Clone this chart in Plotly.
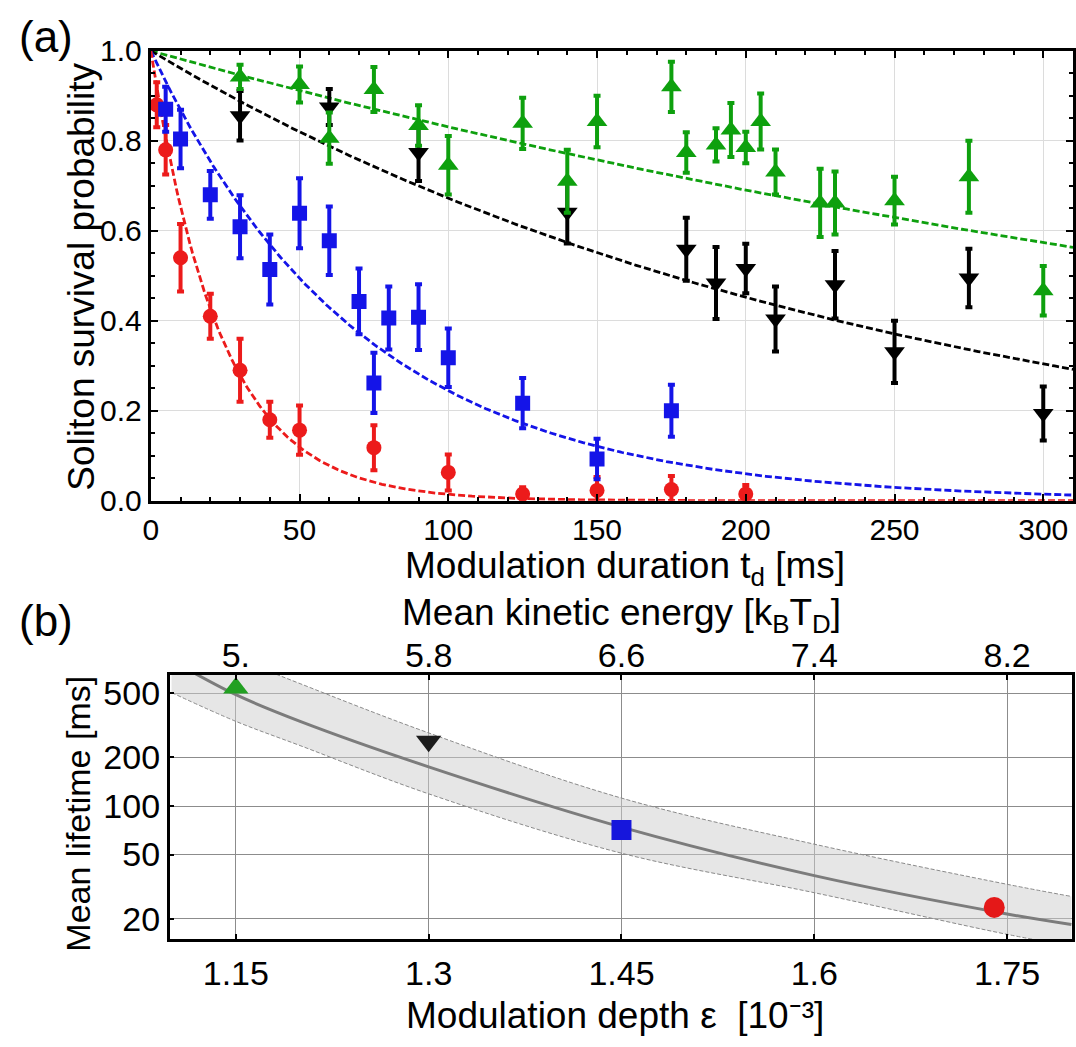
import numpy as np
import plotly.graph_objects as go

W, H = 1076, 1047

# ---------------- Panel (a) data ----------------
red_t = [2, 5, 10, 20, 30, 40, 50, 75, 100, 125, 150, 175, 200]
red_p = [0.88, 0.78, 0.54, 0.41, 0.29, 0.18, 0.157, 0.118, 0.063, 0.015, 0.023, 0.025, 0.015]
red_e = [0.05, 0.055, 0.075, 0.05, 0.07, 0.04, 0.055, 0.05, 0.04, 0.015, 0.03, 0.03, 0.02]

blue_t = [5, 10, 20, 30, 40, 50, 60, 70, 75, 80, 90, 100, 125, 150, 175]
blue_p = [0.87, 0.804, 0.68, 0.609, 0.514, 0.639, 0.578, 0.443, 0.262, 0.406, 0.408, 0.318, 0.217, 0.093, 0.2]
blue_e = [0.05, 0.065, 0.053, 0.07, 0.078, 0.078, 0.076, 0.073, 0.067, 0.07, 0.073, 0.065, 0.056, 0.045, 0.058]

black_t = [30, 60, 90, 140, 180, 190, 200, 210, 230, 250, 275, 300]
black_p = [0.856, 0.875, 0.774, 0.641, 0.559, 0.484, 0.516, 0.404, 0.48, 0.331, 0.495, 0.194]
black_e = [0.055, 0.04, 0.063, 0.069, 0.07, 0.08, 0.055, 0.072, 0.075, 0.069, 0.065, 0.06]

green_t = [30, 50, 60, 75, 90, 100, 125, 140, 150, 175, 180, 190, 195, 200, 205, 210,
           225, 230, 250, 275, 300]
green_p = [0.942, 0.925, 0.806, 0.914, 0.834, 0.746, 0.839, 0.71, 0.843, 0.92, 0.774,
           0.791, 0.824, 0.785, 0.843, 0.731, 0.662, 0.662, 0.667, 0.72, 0.467]
green_e = [0.027, 0.04, 0.057, 0.05, 0.045, 0.065, 0.057, 0.07, 0.057, 0.056, 0.045,
           0.037, 0.06, 0.035, 0.062, 0.05, 0.076, 0.07, 0.053, 0.08, 0.055]

# fitted mean lifetimes [ms] (also the points of panel b)
series_names = ["green", "black", "blue", "red"]
lifetimes = [540, 252, 71, 23.5]
depths = [1.15, 1.30, 1.45, 1.74]

# ---------------- Panel (b) data ----------------
eps_curve = [1.10, 1.15, 1.20, 1.30, 1.45, 1.60, 1.75, 1.80]
tau_curve = [800, 490, 335, 175, 74, 37, 21.4, 18.4]
tau_upper = [1250, 830, 574, 284, 112, 58, 32.7, 27.5]
tau_lower = [505, 335, 237, 119, 51, 29, 16, 13.5]

eps_ticks = [1.15, 1.30, 1.45, 1.60, 1.75]
eps_ticktext = ["1.15", "1.3", "1.45", "1.6", "1.75"]
energy_ticktext = ["5.", "5.8", "6.6", "7.4", "8.2"]
tau_ticks = [20, 50, 100, 200, 500]

RED = "#ec1b1b"
BLUE = "#1414e8"
GREEN = "#0ea00e"
BLACK = "#000000"
colors = {"green": GREEN, "black": BLACK, "blue": BLUE, "red": RED}
colors_b = {"green": "#22a022", "black": "#1c1c1c", "blue": "#1616dc", "red": "#e41818"}
symbols = {"green": "triangle-up", "black": "triangle-down", "blue": "square", "red": "circle"}
msize_a = {"green": 18, "black": 18, "blue": 15, "red": 15}
msize_b = {"green": 22, "black": 22, "blue": 20, "red": 21}

FONT = "Liberation Sans, Arial, sans-serif"
TITLE_SIZE = 37
TICK_A = 30
TICK_B = 34

fig = go.Figure()

# fit curves
t_fit = np.linspace(0, 310, 400)
for name, tau in zip(series_names, lifetimes):
    fig.add_trace(go.Scatter(
        x=t_fit, y=np.exp(-t_fit / tau), mode="lines",
        line=dict(color=colors[name], width=2.8, dash="7px,3px"),
        xaxis="x", yaxis="y", showlegend=False, hoverinfo="skip"))

data_a = {
    "red": (red_t, red_p, red_e),
    "blue": (blue_t, blue_p, blue_e),
    "black": (black_t, black_p, black_e),
    "green": (green_t, green_p, green_e),
}
for name in ["red", "blue", "black", "green"]:
    t, p, e = data_a[name]
    fig.add_trace(go.Scatter(
        x=t, y=p, mode="markers",
        marker=dict(symbol=symbols[name], size=msize_a[name], color=colors[name],
                    line=dict(width=0)),
        error_y=dict(type="data", array=e, visible=True, color=colors[name],
                     thickness=4, width=3.5),
        xaxis="x", yaxis="y", showlegend=False))

# panel (b) band
fig.add_trace(go.Scatter(
    x=eps_curve, y=tau_upper, mode="lines",
    line=dict(color="#8a8a8a", width=1, dash="4px,2px", shape="spline"),
    xaxis="x2", yaxis="y2", showlegend=False, hoverinfo="skip"))
fig.add_trace(go.Scatter(
    x=eps_curve, y=tau_lower, mode="lines", fill="tonexty", fillcolor="rgba(205,205,205,0.5)",
    line=dict(color="#8a8a8a", width=1, dash="4px,2px", shape="spline"),
    xaxis="x2", yaxis="y2", showlegend=False, hoverinfo="skip"))
fig.add_trace(go.Scatter(
    x=eps_curve, y=tau_curve, mode="lines",
    line=dict(color="#7c7c7c", width=3, shape="spline"),
    xaxis="x2", yaxis="y2", showlegend=False, hoverinfo="skip"))
for name, eps, tau in zip(series_names, depths, lifetimes):
    fig.add_trace(go.Scatter(
        x=[eps], y=[tau], mode="markers",
        marker=dict(symbol=symbols[name], size=msize_b[name], color=colors_b[name],
                    line=dict(width=0)),
        xaxis="x2", yaxis="y2", showlegend=False))
# dummy trace for top axis
fig.add_trace(go.Scatter(x=[1.5], y=[100], mode="markers", marker=dict(opacity=0),
                         xaxis="x3", yaxis="y2", showlegend=False, hoverinfo="skip"))

def px_x(px):
    return px / W

def px_y(py):
    return 1 - py / H

axis_a_common = dict(showline=True, linecolor="black", linewidth=3, mirror="allticks",
                     ticks="inside", tickcolor="black", tickwidth=2, ticklen=7,
                     showgrid=True, gridcolor="#dcdcdc", gridwidth=1, zeroline=False,
                     tickfont=dict(family=FONT, size=TICK_A, color="black"))

fig.update_layout(
    width=W, height=H, margin=dict(l=0, r=0, t=0, b=0),
    paper_bgcolor="white", plot_bgcolor="white",
    font=dict(family=FONT, color="black"),
    xaxis=dict(domain=[px_x(144), px_x(1074)], anchor="y", range=[0, 310],
               tickvals=[0, 50, 100, 150, 200, 250, 300],
               minor=dict(dtick=10, ticks="inside", ticklen=4, tickcolor="black",
                          tickwidth=2, showgrid=False),
               **axis_a_common),
    yaxis=dict(domain=[px_y(500), px_y(35)], anchor="x", range=[0, 1.0],
               tickvals=[0, 0.2, 0.4, 0.6, 0.8, 1.0], tickformat=".1f",
               minor=dict(dtick=0.05, ticks="inside", ticklen=4, tickcolor="black",
                          tickwidth=2, showgrid=False),
               **axis_a_common),
    xaxis2=dict(domain=[px_x(163), px_x(1073)], anchor="y2", range=[1.0985, 1.8005],
                tickvals=eps_ticks, ticktext=eps_ticktext,
                showline=True, linecolor="black", linewidth=2.5, mirror=True,
                ticks="inside", ticklen=5, tickwidth=2, tickcolor="black",
                ticklabelstandoff=2,
                showgrid=True, gridcolor="#8c8c8c", gridwidth=1.3, zeroline=False,
                tickfont=dict(family=FONT, size=TICK_B, color="black")),
    yaxis2=dict(domain=[px_y(953), px_y(680)], anchor="x2", type="log",
                range=[1.175, 2.813], tickvals=tau_ticks,
                ticktext=[str(v) for v in tau_ticks],
                showline=True, linecolor="black", linewidth=2.5, mirror=True,
                ticks="inside", ticklen=5, tickwidth=2, tickcolor="black",
                showgrid=True, gridcolor="#8c8c8c", gridwidth=1.3, zeroline=False,
                tickfont=dict(family=FONT, size=TICK_B, color="black")),
    xaxis3=dict(overlaying="x2", anchor="y2", side="top", range=[1.0985, 1.8005],
                tickvals=eps_ticks, ticktext=energy_ticktext,
                ticks="inside", ticklen=5, tickwidth=2, tickcolor="black",
                showgrid=False, zeroline=False, showline=False,
                tickfont=dict(family=FONT, size=TICK_B, color="black")),
)

annos = [
    dict(text="(a)", x=px_x(38), y=px_y(20), size=44),
    dict(text="(b)", x=px_x(38), y=px_y(624), size=44),
    dict(text="Soliton survival probability", x=px_x(74), y=px_y(268), size=TITLE_SIZE, angle=-90),
    dict(text="Modulation duration t<sub>d</sub> [ms]", x=px_x(622), y=px_y(569), size=TITLE_SIZE),
    dict(text="Mean kinetic energy [k<sub>B</sub>T<sub>D</sub>]", x=px_x(619), y=px_y(618), size=TITLE_SIZE),
    dict(text="Modulation depth ε  [10⁻³]", x=px_x(612), y=px_y(1032), size=TITLE_SIZE),
    dict(text="Mean lifetime [ms]", x=px_x(71), y=px_y(823), size=34, angle=-90),
]
for a in annos:
    fig.add_annotation(text=a["text"], x=a["x"], y=a["y"], xref="paper", yref="paper",
                       showarrow=False, xanchor="center", yanchor="middle",
                       textangle=a.get("angle", 0),
                       font=dict(family=FONT, size=a["size"], color="black"))

fig.write_html("out.html")
